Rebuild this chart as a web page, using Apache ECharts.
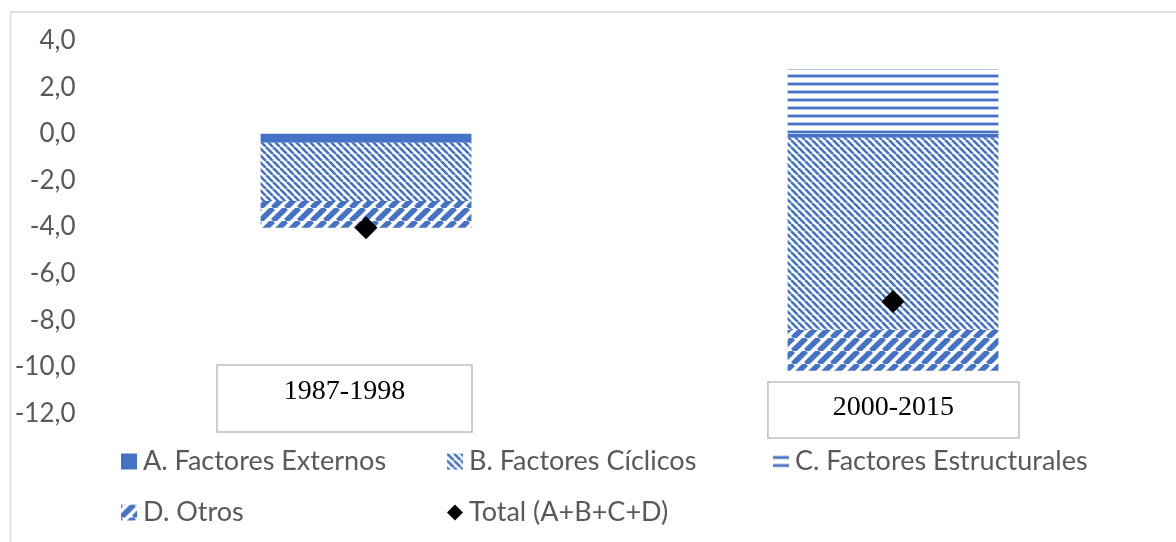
<!DOCTYPE html>
<html>
<head>
<meta charset="utf-8">
<script src="https://cdn.jsdelivr.net/npm/echarts@6/dist/echarts.min.js"></script>
<style>
  html, body { margin: 0; padding: 0; background: #fff; }
  #chart { width: 1176px; height: 542px; }
</style>
</head>
<body>
<div id="chart"></div>
<script>
// Periods and contribution of each group of factors
const periods = ['1987-1998', '2000-2015'];
const externos = [-0.38, -0.17];
const ciclicos = [-2.50, -8.25];
const estructurales = [0.0, 2.78];
const otros = [-1.15, -1.75];
const total = [-4.03, -7.20];

const yTicks = { min: -12, max: 4, interval: 2 };

const seriesNames = [
  'A. Factores Externos',
  'B. Factores Cíclicos',
  'C. Factores Estructurales',
  'D. Otros',
  'Total (A+B+C+D)'
];

const BLUE = '#4472C4';
const TEXT = '#595959';
const SANS = 'Lato, "Open Sans", sans-serif';

// Fill patterns drawn on small tiles
function tile(w, h, draw) {
  const c = document.createElement('canvas');
  c.width = w; c.height = h;
  const g = c.getContext('2d');
  g.fillStyle = '#ffffff';
  g.fillRect(0, 0, w, h);
  draw(g, w, h);
  return { image: c, repeat: 'repeat' };
}
const downStripes = tile(7, 7, (g, s) => {
  g.strokeStyle = BLUE; g.lineWidth = 2.6;
  for (let k = -1; k <= 1; k++) {
    g.beginPath(); g.moveTo(k * s, 0); g.lineTo(k * s + s, s); g.stroke();
  }
});
const upStripes = tile(13, 13, (g, s) => {
  g.strokeStyle = BLUE; g.lineWidth = 5.5;
  for (let k = -1; k <= 1; k++) {
    g.beginPath(); g.moveTo(k * s, s); g.lineTo(k * s + s, 0); g.stroke();
  }
});
const hLines = tile(8, 8, (g, w) => {
  g.fillStyle = '#b4c6e7'; g.fillRect(0, 2, w, 4);
  g.fillStyle = BLUE; g.fillRect(0, 3, w, 2);
});

const chart = echarts.init(document.getElementById('chart'), null, { renderer: 'canvas' });

function barSeries(name, data, color) {
  return {
    name, type: 'bar', stack: 'total', data,
    barWidth: '40%',
    itemStyle: { color },
    emphasis: { disabled: true }
  };
}

function legendAt(name, left, top, icon) {
  return {
    data: [{ name, icon }],
    left, top,
    padding: 0,
    itemWidth: 16, itemHeight: 16,
    textStyle: { color: TEXT, fontFamily: SANS, fontSize: 27, lineHeight: 18, padding: [0, 0, 0, 1] },
    selectedMode: false
  };
}

chart.setOption({
  animation: false,
  backgroundColor: '#ffffff',
  grid: { left: 102.5, right: 19.5, top: 40.7, bottom: 542 - 413.3, containLabel: false },
  xAxis: {
    type: 'category',
    data: periods,
    axisLine: { show: false },
    axisTick: { show: false },
    axisLabel: { show: false }
  },
  yAxis: {
    type: 'value',
    min: yTicks.min, max: yTicks.max, interval: yTicks.interval,
    axisLine: { show: false },
    axisTick: { show: false },
    splitLine: { show: false },
    axisLabel: {
      margin: 27,
      color: TEXT,
      fontFamily: SANS,
      fontSize: 26,
      formatter: v => v.toFixed(1).replace('.', ',')
    }
  },
  legend: [
    legendAt(seriesNames[0], 121, 448, 'rect'),
    legendAt(seriesNames[1], 447, 448, 'rect'),
    legendAt(seriesNames[2], 773, 448, 'rect'),
    legendAt(seriesNames[3], 121, 499, 'rect'),
    legendAt(seriesNames[4], 447, 499, 'diamond')
  ],
  series: [
    barSeries(seriesNames[0], externos, BLUE),
    barSeries(seriesNames[1], ciclicos, downStripes),
    barSeries(seriesNames[2], estructurales, hLines),
    barSeries(seriesNames[3], otros, upStripes),
    {
      name: seriesNames[4],
      type: 'scatter',
      data: total,
      symbol: 'diamond',
      symbolSize: 23,
      itemStyle: { color: '#000000', opacity: 1 },
      z: 5,
      emphasis: { disabled: true }
    }
  ]
});

// Framed period labels below the bars
const boxLayout = [
  { dx: -21.5, top: 365, width: 255, height: 67, textTop: 27 },
  { dx: 0.4, top: 382, width: 251, height: 56, textTop: 26 }
];
const boxes = periods.map((p, i) => {
  const cx = chart.convertToPixel({ xAxisIndex: 0 }, p) + boxLayout[i].dx;
  const b = boxLayout[i];
  return {
    type: 'group',
    children: [
      {
        type: 'rect',
        shape: { x: cx - b.width / 2, y: b.top, width: b.width, height: b.height },
        style: { fill: '#ffffff', stroke: '#bfbfbf', lineWidth: 1.5 },
        z: 10
      },
      {
        type: 'text',
        x: cx, y: b.top + b.textTop,
        style: {
          text: p, fill: '#000000',
          font: '28px "Liberation Serif", serif',
          textAlign: 'center', textVerticalAlign: 'middle'
        },
        z: 11
      }
    ]
  };
});

chart.setOption({
  graphic: [
    {
      type: 'rect',
      shape: { x: 10.5, y: 12, width: 1300, height: 700 },
      style: { fill: 'none', stroke: '#d9d9d9', lineWidth: 1.5 },
      silent: true
    },
    ...boxes
  ]
});
</script>
</body>
</html>
